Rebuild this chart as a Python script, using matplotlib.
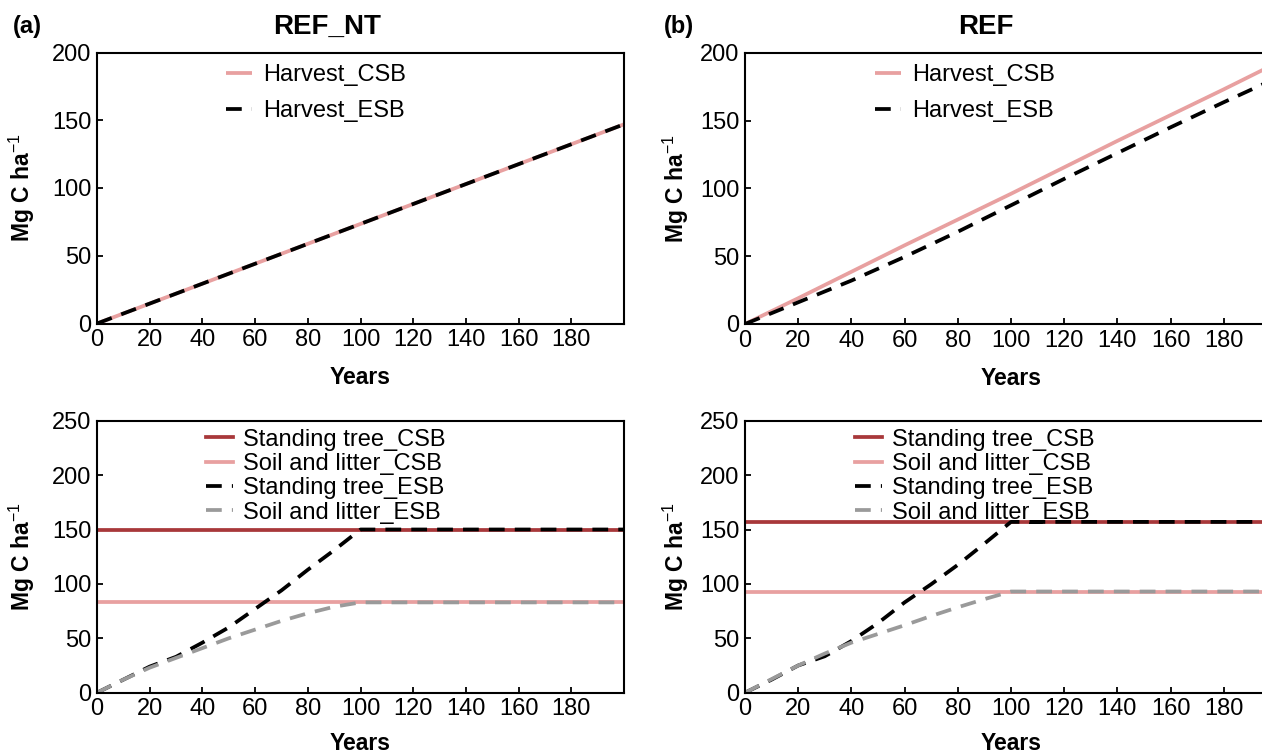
import matplotlib
matplotlib.use("Agg")
import matplotlib.pyplot as plt

plt.rcParams['font.family'] = ['Liberation Sans', 'DejaVu Sans']
plt.rcParams['mathtext.fontset'] = 'custom'
plt.rcParams['mathtext.rm'] = 'Liberation Sans'
plt.rcParams['mathtext.it'] = 'Liberation Sans:italic'
plt.rcParams['mathtext.bf'] = 'Liberation Sans:bold'

# ---------------- data ----------------
years_h = [0, 20, 40, 60, 80, 100, 120, 140, 160, 180, 200]
harvest_csb_nt = [0, 14.7, 29.4, 44.1, 58.8, 73.5, 88.2, 102.9, 117.6, 132.3, 147]
harvest_esb_nt = [0, 14.7, 29.4, 44.1, 58.8, 73.5, 88.2, 102.9, 117.6, 132.3, 147]
harvest_csb_ref = [0, 19, 38.5, 58, 77, 96, 115.5, 135, 154, 173, 192.5]
harvest_esb_ref = [0, 16, 32, 49.5, 68, 87.5, 107, 126, 145, 163.5, 181.5]

years_s = [0, 10, 20, 30, 40, 50, 60, 70, 80, 90, 100, 200]
tree_csb_nt = [150] * 12
soil_csb_nt = [83] * 12
tree_esb_nt = [0, 12, 24, 33, 46, 60, 77, 94, 113, 131, 150, 150]
soil_esb_nt = [0, 12, 23, 32, 41, 50, 58, 66, 73, 79, 83, 83]

tree_csb_ref = [157] * 12
soil_csb_ref = [93] * 12
tree_esb_ref = [0, 12, 25, 33.5, 47.5, 64, 83, 99.7, 117.5, 137, 157, 157]
soil_esb_ref = [0, 12.5, 25, 36, 46, 54, 62, 70.5, 78.5, 86, 93, 93]

xticks = [0, 20, 40, 60, 80, 100, 120, 140, 160, 180]
yticks_top = [0, 50, 100, 150, 200]
yticks_bot = [0, 50, 100, 150, 200, 250]

panel_titles = ['REF_NT', 'REF']
panel_letters = ['(a)', '(b)']

# ---------------- style ----------------
PINK = '#E8A0A0'
DARKRED = '#A8383A'
GRAY = '#9A9A9A'
BLACK = '#000000'
LW = 2.7
DASH = [4.2, 2.7]
FS = 17
LFS = 16.5

W, H = 1262, 756
fig = plt.figure(figsize=(W / 100, H / 100), dpi=100)

def axpos(left, right, top, bottom):
    return [left / W, 1 - bottom / H, (right - left) / W, (bottom - top) / H]

ax_tl = fig.add_axes(axpos(97, 624, 52.5, 323.5))
ax_bl = fig.add_axes(axpos(97, 624, 420.7, 692.7))
ax_tr = fig.add_axes(axpos(745, 1277, 52.7, 324))
ax_br = fig.add_axes(axpos(745, 1277, 420.7, 692.7))

def style(ax, yticks, ylim, ylab_x, xlab_y):
    ax.set_xlim(0, 200)
    ax.set_ylim(*ylim)
    ax.set_xticks(xticks)
    ax.set_yticks(yticks)
    ax.tick_params(direction='in', length=4.5, width=1.3, labelsize=FS, pad=4,
                   top=False, right=False)
    for s in ax.spines.values():
        s.set_linewidth(1.5)
    ax.set_xlabel('Years', fontsize=LFS, fontweight='bold')
    ax.xaxis.set_label_coords(0.5, xlab_y)
    ax.xaxis.label.set_va('center')
    ax.set_ylabel(r'Mg C ha$^{-1}$', fontsize=LFS, fontweight='bold')
    ax.yaxis.set_label_coords(ylab_x, 0.5)
    ax.yaxis.label.set_va('center')

# top panels
for ax, csb, esb, lx in [(ax_tl, harvest_csb_nt, harvest_esb_nt, -0.142),
                         (ax_tr, harvest_csb_ref, harvest_esb_ref, -0.130)]:
    ax.plot(years_h, csb, color=PINK, lw=LW, label='Harvest_CSB', solid_capstyle='butt')
    ax.plot(years_h, esb, color=BLACK, lw=LW, dashes=DASH, label='Harvest_ESB')
    style(ax, yticks_top, (0, 200), lx, -0.201)
    ax.legend(loc='upper left', bbox_to_anchor=(0.245, 0.958), frameon=False,
              fontsize=FS, handlelength=1.1, handletextpad=0.45, labelspacing=0.6,
              borderpad=0, borderaxespad=0)

# bottom panels
for ax, tc, sc, te, se, lx in [(ax_bl, tree_csb_nt, soil_csb_nt, tree_esb_nt, soil_esb_nt, -0.142),
                               (ax_br, tree_csb_ref, soil_csb_ref, tree_esb_ref, soil_esb_ref, -0.130)]:
    ax.plot(years_s, tc, color=DARKRED, lw=LW, label='Standing tree_CSB')
    ax.plot(years_s, sc, color=PINK, lw=LW, label='Soil and litter_CSB')
    ax.plot(years_s, te, color=BLACK, lw=LW, dashes=DASH, label='Standing tree_ESB')
    ax.plot(years_s, se, color=GRAY, lw=LW, dashes=DASH, label='Soil and litter_ESB')
    style(ax, yticks_bot, (0, 250), lx, -0.185)
    ax.legend(loc='upper left', bbox_to_anchor=(0.207, 0.971), frameon=False,
              fontsize=FS, handlelength=1.15, handletextpad=0.4, labelspacing=0.1,
              borderpad=0, borderaxespad=0)

# titles and panel letters
fig.text(327 / W, 1 - 27 / H, panel_titles[0], fontsize=20, fontweight='bold', ha='center', va='center')
fig.text(985.5 / W, 1 - 27 / H, panel_titles[1], fontsize=20, fontweight='bold', ha='center', va='center')
fig.text(13 / W, 1 - 27 / H, panel_letters[0], fontsize=17, fontweight='bold', ha='left', va='center')
fig.text(664 / W, 1 - 27 / H, panel_letters[1], fontsize=17, fontweight='bold', ha='left', va='center')

fig.savefig('out.png', dpi=100)
